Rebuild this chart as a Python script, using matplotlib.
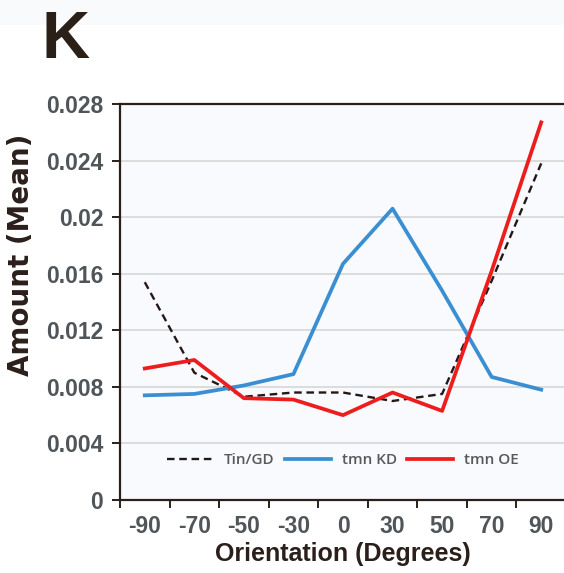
import matplotlib
matplotlib.use("Agg")
import matplotlib.pyplot as plt
from matplotlib.patches import Rectangle

# orientation categories (degrees) and mean amounts
orientations = ["-90", "-70", "-50", "-30", "0", "30", "50", "70", "90"]
tin_gd = [0.0154, 0.0090, 0.0073, 0.0076, 0.0076, 0.0070, 0.0075, 0.0155, 0.0238]
tmn_kd = [0.0074, 0.0075, 0.0081, 0.0089, 0.0167, 0.0206, 0.0148, 0.0087, 0.0078]
tmn_oe = [0.0093, 0.0099, 0.0072, 0.0071, 0.0060, 0.0076, 0.0063, 0.0162, 0.0267]
y_ticks = [0, 0.004, 0.008, 0.012, 0.016, 0.02, 0.024, 0.028]
y_tick_labels = ["0", "0.004", "0.008", "0.012", "0.016", "0.02", "0.024", "0.028"]

tick_grey = "#4f5559"
dark = "#2a1f1a"

plt.rcParams["font.family"] = ["Liberation Sans", "DejaVu Sans"]

fig = plt.figure(figsize=(5.64, 5.73), dpi=100)
fig.patches.append(Rectangle((0, 1 - 25 / 573), 1, 25 / 573, transform=fig.transFigure,
                             facecolor="#f9fafc", edgecolor="none", zorder=0))

ax = fig.add_axes([120 / 564, 1 - 500 / 573, 446 / 564, 396 / 573])
ax.set_facecolor("#f9fafd")

x = list(range(len(orientations)))
ax.plot(x, tin_gd, color="#231815", linestyle=(0, (3.2, 2)), linewidth=1.7, label="Tin/GD", zorder=3)
ax.plot(x, tmn_kd, color="#3a8fd2", linewidth=2.7, label="tmn KD", zorder=3)
ax.plot(x, tmn_oe, color="#ee1d1d", linewidth=2.7, label="tmn OE", zorder=4)

ax.set_xlim(-0.5, len(orientations) - 0.5)
ax.set_ylim(0, 0.028)

# gridlines
for v in y_ticks[1:-1]:
    ax.axhline(v, color="#d6d6d6", linewidth=1.2, zorder=1)

ax.set_yticks(y_ticks)
ax.set_yticklabels(y_tick_labels, fontsize=16.5, fontweight="bold", color=tick_grey)
ax.tick_params(axis="y", direction="out", length=6, width=1.4, color=dark, pad=6)

ax.set_xticks(x)
ax.set_xticklabels(orientations, fontsize=16.5, fontweight="bold", color=tick_grey)
ax.set_xticks([i - 0.5 for i in range(len(orientations) + 1)], minor=True)
ax.tick_params(axis="x", which="major", length=0, pad=11)
ax.tick_params(axis="x", which="minor", direction="out", length=6, width=1.4, color=dark)

for side in ["left", "bottom", "top"]:
    ax.spines[side].set_color(dark)
    ax.spines[side].set_linewidth(1.6)
ax.spines["right"].set_visible(False)

ax.set_xlabel("Orientation (Degrees)", fontsize=18, fontweight="bold", color=dark, labelpad=3)
fig.text(21 / 564, 1 - 255 / 573, "Amount (Mean)", rotation=90, ha="center", va="center",
         fontsize=20, fontweight="bold", color=dark, family="DejaVu Sans")

leg = ax.legend(loc="center", bbox_to_anchor=(0.50, 0.10), ncol=3, frameon=False,
                prop={"family": "Open Sans", "size": 11, "weight": "semibold"},
                handlelength=3.0, columnspacing=0.7, handletextpad=0.7)
for t in leg.get_texts():
    t.set_color("#595959")

fig.text(42 / 564, 1 - 58 / 573, "K", fontsize=48, fontweight="bold", color="#2a2018",
         ha="left", va="baseline")

fig.savefig("out.png", dpi=100)
